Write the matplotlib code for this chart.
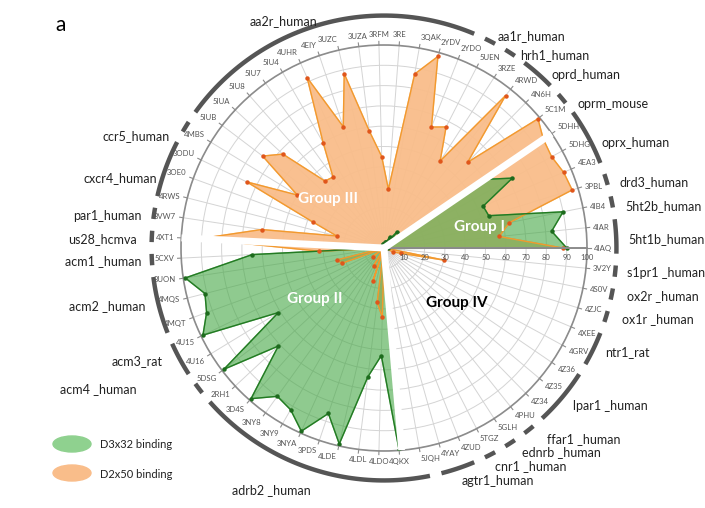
import numpy as np
import matplotlib
matplotlib.use("Agg")
import matplotlib.pyplot as plt
from matplotlib.patches import Ellipse

plt.rcParams['font.family'] = ['Lato', 'DejaVu Sans']

# PDB codes, counter-clockwise from 0 degrees
pdb = ['4IAQ', '4IAR', '4IB4', '3PBL', '4EA3', '5DHG', '5DHH', '5C1M', '4N6H', '4RWD',
       '3RZE', '5UEN', '2YDO', '2YDV', '3QAK', '3RE', '3RFM', '3UZA', '3UZC', '4EIY',
       '4UHR', '5IU4', '5IU7', '5IU8', '5IUA', '5IUB', '4MBS', '3ODU', '3OE0', '4RWS',
       '3VW7', '4XT1', '5CXV', '3UON', '4MQS', '4MQT', '4U15', '4U16', '5DSG', '2RH1',
       '3D4S', '3NY8', '3NY9', '3NYA', '3PDS', '4LDE', '4LDL', '4LDO', '4QKX', '5JQH',
       '4YAY', '4ZUD', '5TGZ', '5GLH', '4PHU', '4Z34', '4Z35', '4Z36', '4GRV', '4XEE',
       '4ZJC', '4S0V', '3V2Y']

# D3x32 binding (green)
d3x32 = [90, 83, 90, 54, 53, 72, 60, 10, 5, 10,
         5, 6, 3, 3, 3, 2, 2, 2, 2, 1,
         1, 1, 1, 1, 1, 1, 1, 1, 1, 1,
         1, 1, 65, 99, 91, 93, 99, 61, 99, 71,
         99, 90, 92, 99, 86, 99, 64, 53, 100, 0,
         0, 0, 0, 0, 0, 0, 0, 0, 0, 0,
         0, 0, 2]

# D2x50 binding (orange)
d2x50 = [88, 57, 63, 97, 96, 94, 95, 99, 59, 96,
         51, 67, 64, 98, 87, 29, 45, 58, 88, 63,
         92, 60, 43, 44, 68, 75, 50, 75, 37, 24,
         61, 91, 32, 1, 24, 22, 1, 1, 7, 1,
         1, 1, 10, 1, 17, 1, 27, 34, 1, 0,
         0, 0, 0, 0, 0, 0, 0, 0, 0, 5,
         9, 30, 1]

# receptor groups: name, first index, last index
receptors = [('5ht1b_human', 0, 1), ('5ht2b_human', 2, 2), ('drd3_human', 3, 3),
             ('oprx_human', 4, 6), ('oprm_mouse', 7, 7), ('oprd_human', 8, 9),
             ('hrh1_human', 10, 10), ('aa1r_human', 11, 11), ('aa2r_human', 12, 25),
             ('ccr5_human', 26, 26), ('cxcr4_human', 27, 29), ('par1_human', 30, 30),
             ('us28_hcmva', 31, 31), ('acm1 _human', 32, 32), ('acm2 _human', 33, 35),
             ('acm3_rat', 36, 37), ('acm4 _human', 38, 38), ('adrb2 _human', 39, 49),
             ('agtr1_human', 50, 51), ('cnr1 _human', 52, 52), ('ednrb _human', 53, 53),
             ('ffar1 _human', 54, 54), ('lpar1 _human', 55, 57), ('ntr1_rat', 58, 59),
             ('ox1r _human', 60, 60), ('ox2r _human', 61, 61), ('s1pr1 _human', 62, 62)]

# left edge / middle of the receptor names (pixels)
name_pos = {'5ht1b_human': (628, 239), '5ht2b_human': (625, 206), 'drd3_human': (620, 182),
            'oprx_human': (601, 143), 'oprm_mouse': (577, 104), 'oprd_human': (552, 75),
            'hrh1_human': (520, 55), 'aa1r_human': (498, 36), 'aa2r_human': (250, 21),
            'ccr5_human': (103, 136), 'cxcr4_human': (84, 178), 'par1_human': (73, 216),
            'us28_hcmva': (68, 239), 'acm1 _human': (65, 261), 'acm2 _human': (69, 306),
            'acm3_rat': (112, 361), 'acm4 _human': (60, 389), 'adrb2 _human': (232, 490),
            'agtr1_human': (462, 481), 'cnr1 _human': (495, 466), 'ednrb _human': (522, 452),
            'ffar1 _human': (547, 439), 'lpar1 _human': (573, 406), 'ntr1_rat': (605, 352),
            'ox1r _human': (622, 319), 'ox2r _human': (627, 296), 's1pr1 _human': (627, 273)}

W, H = 705, 508
fig = plt.figure(figsize=(W / 100, H / 100), dpi=100)


def fx(x, y):
    return x / W, 1 - y / H


n = len(pdb)
step = 2 * np.pi / n
ang = np.arange(n) * step
ang_c = np.append(ang, ang[0])

cx, cy, R = 384, 248, 203
ax = fig.add_axes([(cx - R) / W, 1 - (cy + R) / H, 2 * R / W, 2 * R / H], projection='polar')
ax.set_ylim(0, 100)
ax.set_xticks(ang)
ax.set_xticklabels([])
ax.set_yticks(np.arange(10, 101, 10))
ax.set_yticklabels([])
ax.grid(True, color='#d4d4d4', lw=0.7)
ax.spines['polar'].set_color('#8c8c8c')
ax.spines['polar'].set_linewidth(1.2)
ax.tick_params(length=0)

# orange first, green over it
o = np.append(d2x50, d2x50[0])
g = np.append(d3x32, d3x32[0])
ax.fill(ang_c, o, color='#f9bd8a', alpha=0.95, zorder=2)
ax.fill(ang_c, g, color='#45a845', alpha=0.6, zorder=3)
ax.plot(ang_c, o, color='#f29a2e', lw=1.0, zorder=4)
ax.plot(ang, d2x50, 'o', color='#e0561b', ms=2.2, zorder=5)
ax.plot(ang_c, g, color='#237a23', lw=1.0, zorder=4)
ax.plot(ang, d3x32, 'o', color='#1d6b1d', ms=2.2, zorder=5)

# axis with the value scale
ax.plot([0, 0], [0, 100], color='#8c8c8c', lw=1.4, zorder=6)
for v in range(10, 101, 10):
    ax.annotate(str(v), xy=(0, v), xytext=(0, -6.5), textcoords='offset points',
                ha='center', va='center', fontsize=5.5, color='#555555', zorder=7)

# white separators between groups
for a in [ang[6], ang[31], np.deg2rad(275)]:
    ax.plot([a, a], [0, 100], color='white', lw=5, solid_capstyle='butt', zorder=8)

# PDB labels and small ticks
for a, lab in zip(ang, pdb):
    ax.plot([a, a], [100, 101.8], color='#8c8c8c', lw=0.8, clip_on=False)
    c, s = np.cos(a), np.sin(a)
    ha = 'left' if c > 0.15 else ('right' if c < -0.15 else 'center')
    va = 'bottom' if s > 0.3 else ('top' if s < -0.3 else 'center')
    ax.text(a, 103.5, lab, ha=ha, va=va, fontsize=5.6, color='#555555', clip_on=False)

# receptor arcs
for name, i0, i1 in receptors:
    a0 = ang[i0] - np.deg2rad(1.4)
    a1 = ang[i1] + np.deg2rad(1.4)
    t = np.linspace(a0, a1, 60)
    ax.plot(t, np.full_like(t, 114.5), color='#555555', lw=3.2, solid_capstyle='butt',
            clip_on=False)
    x, y = name_pos[name]
    fig.text(*fx(x, y), name, fontsize=9, color='#222222', ha='left', va='center')

# group labels
fig.text(*fx(328, 199), 'Group III', color='white', fontsize=11, fontweight='bold',
         ha='center', va='center')
fig.text(*fx(480, 227), 'Group I', color='white', fontsize=11, fontweight='bold',
         ha='center', va='center')
fig.text(*fx(315, 299), 'Group II', color='white', fontsize=11, fontweight='bold',
         ha='center', va='center')
fig.text(*fx(457, 303), 'Group IV', color='black', fontsize=11, fontweight='bold',
         ha='center', va='center')

fig.text(*fx(55, 25), 'a', fontsize=15, ha='left', va='center')

# legend
for (y, col, lab) in [(444, '#8fd18f', 'D3x32 binding'), (473, '#f9bd8a', 'D2x50 binding')]:
    fig.patches.append(Ellipse(fx(72, y), 38 / W, 16 / H, color=col,
                               transform=fig.transFigure, figure=fig))
    fig.text(*fx(100, y + 1), lab, fontsize=8, color='#222222', ha='left', va='center')

fig.savefig('out.png', dpi=100)
